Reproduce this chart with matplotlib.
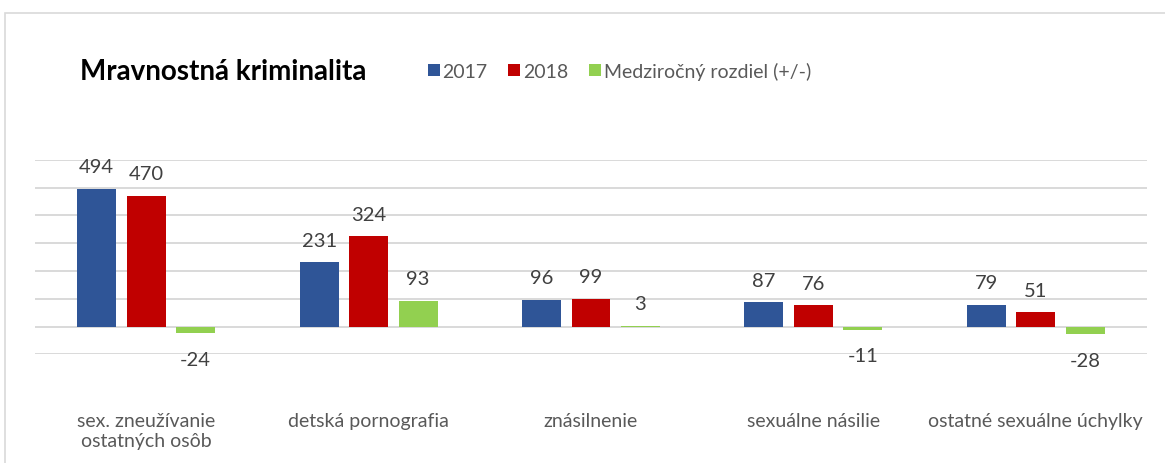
import matplotlib
matplotlib.use("Agg")
import matplotlib.pyplot as plt
from matplotlib.patches import Rectangle
import numpy as np

categories = ["sex. zneužívanie\nostatných osôb", "detská pornografia", "znásilnenie",
              "sexuálne násilie", "ostatné sexuálne úchylky"]
series_names = ["2017", "2018", "Medziročný rozdiel (+/-)"]
v2017 = [494, 231, 96, 87, 79]
v2018 = [470, 324, 99, 76, 51]
vdiff = [-24, 93, 3, -11, -28]
colors = ["#2F5597", "#C00000", "#92D050"]

plt.rcParams['font.family'] = ['Lato', 'DejaVu Sans']

W, H = 1165, 464
fig = plt.figure(figsize=(W / 100, H / 100), dpi=100)

# outer chart border
fig.patches.append(Rectangle((5 / W, -0.05), 1.2, 1 - 14 / H + 0.05, transform=fig.transFigure,
                             fill=False, edgecolor="#D9D9D9", linewidth=1.2))

y0, y1 = 355.3, 160.7
ax = fig.add_axes([35 / W, 1 - y0 / H, (1147 - 35) / W, (y0 - y1) / H])
ax.set_xlim(-0.5, len(categories) - 0.5)
ax.set_ylim(-100, 600)
ax.set_yticks(np.arange(-100, 601, 100))
ax.yaxis.grid(True, color="#D9D9D9", linewidth=1.4)
ax.set_axisbelow(True)
for s in ax.spines.values():
    s.set_visible(False)
ax.tick_params(axis="y", left=False, labelleft=False)
ax.tick_params(axis="x", bottom=False, pad=38, labelsize=14, labelcolor="#595959")

x = np.arange(len(categories))
bw = 0.175
step = 0.2225
data = [v2017, v2018, vdiff]
for i, (vals, c, name) in enumerate(zip(data, colors, series_names)):
    xs = x + (i - 1) * step
    ax.bar(xs, vals, width=bw, color=c, label=name, zorder=3)
    for xx, v in zip(xs, vals):
        if v >= 0:
            ax.annotate(str(v), (xx, v), xytext=(0, 16), textcoords="offset points",
                        ha="center", va="center", fontsize=14.5, color="#404040")
        else:
            ax.annotate(str(v), (xx, v), xytext=(0, -19), textcoords="offset points",
                        ha="center", va="center", fontsize=14.5, color="#404040",
                        annotation_clip=False)

ax.set_xticks(x)
ax.set_xticklabels(categories, linespacing=1.25)

fig.text(80 / W, 1 - 72 / H, "Mravnostná kriminalita", fontsize=20, fontweight="bold",
         color="black", ha="left", va="center")

handles, labels = ax.get_legend_handles_labels()
fig.legend(handles, labels, loc="center left", bbox_to_anchor=(410 / W, 1 - 72 / H),
           ncol=3, frameon=False, fontsize=14, handlelength=0.62, handleheight=0.62,
           handletextpad=0.15, columnspacing=1.05, labelcolor="#595959")

fig.savefig("out.png", dpi=100)
